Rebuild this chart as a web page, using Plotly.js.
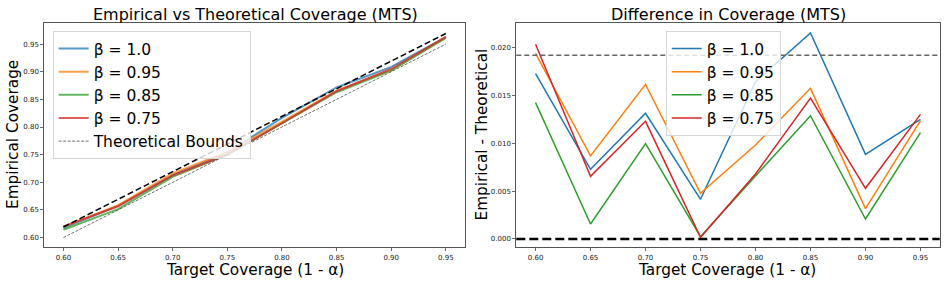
<!DOCTYPE html>
<html><head><meta charset="utf-8">
<script src="https://cdn.plot.ly/plotly-3.0.1.min.js"></script>
<style>html,body{margin:0;padding:0;background:#fff}#c{width:947px;height:284px}</style>
</head><body><div id="c"></div>
<script>
const targets = [0.60, 0.65, 0.70, 0.75, 0.80, 0.85, 0.90, 0.95];
const betaLabels = ['β = 1.0', 'β = 0.95', 'β = 0.85', 'β = 0.75'];
const diffB100 = [0.01728, 0.00728, 0.01314, 0.00415, 0.01645, 0.02153, 0.00885, 0.01251];
const diffB095 = [0.01940, 0.00868, 0.01617, 0.00477, 0.00983, 0.01575, 0.00317, 0.01237];
const diffB085 = [0.01425, 0.00157, 0.00997, 0.00024, 0.00659, 0.01289, 0.00209, 0.01111];
const diffB075 = [0.02035, 0.00655, 0.01230, 0.00017, 0.00680, 0.01474, 0.00530, 0.01303];
const upperGap = 0.0192;
const refLevels = [0.0192, 0.0];
const leftTicks = [0.60, 0.65, 0.70, 0.75, 0.80, 0.85, 0.90, 0.95];
const rightYTicks = [0.000, 0.005, 0.010, 0.015, 0.020];

const diffs = [diffB100, diffB095, diffB085, diffB075];
const colors = ['#1f77b4', '#ff7f0e', '#2ca02c', '#d62728'];
const FONT = 'DejaVu Sans, sans-serif';
const W = 947, H = 284;
const traces = [];

diffs.forEach((d, i) => {
  traces.push({
    x: targets, y: targets.map((t, k) => t + d[k]), type: 'scatter', mode: 'lines',
    name: betaLabels[i], line: {color: colors[i], width: 2}, opacity: 0.75,
    xaxis: 'x', yaxis: 'y', legend: 'legend'
  });
});
traces.push({
  x: targets, y: targets.map(t => t + upperGap), type: 'scatter', mode: 'lines',
  name: 'upper', showlegend: false, line: {color: '#000', width: 1.5, dash: '6px,3px'},
  xaxis: 'x', yaxis: 'y'
});
traces.push({
  x: targets, y: targets.slice(), type: 'scatter', mode: 'lines',
  name: 'Theoretical Bounds', line: {color: '#333', width: 0.7, dash: '3px,1.5px'},
  xaxis: 'x', yaxis: 'y', legend: 'legend'
});
diffs.forEach((d, i) => {
  traces.push({
    x: targets, y: d, type: 'scatter', mode: 'lines',
    name: betaLabels[i], line: {color: colors[i], width: 1.5},
    xaxis: 'x2', yaxis: 'y2', legend: 'legend2'
  });
});

const axBase = {
  showgrid: false, zeroline: false, showline: true, mirror: true,
  linecolor: '#555', linewidth: 1, ticks: 'outside', ticklen: 3, tickwidth: 0.8,
  tickcolor: '#444', tickfont: {family: FONT, size: 7, color: '#222'}
};
const titleFont = {family: FONT, size: 15.3, color: '#000'};
function ann(text, px, py, angle) {
  return {text: text, xref: 'paper', yref: 'paper', x: px / W, y: 1 - py / H,
    xanchor: 'center', yanchor: 'middle', showarrow: false, textangle: angle || 0,
    font: titleFont};
}

const legendBase = {xanchor: 'left', yanchor: 'top',
  bgcolor: 'rgba(255,255,255,0.8)', bordercolor: '#d6d6d6', borderwidth: 1,
  font: {family: FONT, size: 15.5, color: '#000'}, tracegroupgap: 0};

const layout = {
  width: W, height: H, margin: {l: 0, r: 0, t: 0, b: 0},
  paper_bgcolor: '#fff', plot_bgcolor: '#fff',
  xaxis: Object.assign({}, axBase, {domain: [0.0468, 0.491], range: [0.5825, 0.9675],
    tickvals: leftTicks, tickformat: '.2f'}),
  yaxis: Object.assign({}, axBase, {domain: [0.1292, 0.918], range: [0.5824, 0.9876],
    tickvals: leftTicks, tickformat: '.2f'}),
  xaxis2: Object.assign({}, axBase, {domain: [0.5452, 0.9923], range: [0.5825, 0.9675],
    tickvals: leftTicks, tickformat: '.2f', anchor: 'y2'}),
  yaxis2: Object.assign({}, axBase, {domain: [0.1292, 0.918], range: [-0.00087, 0.02255],
    tickvals: rightYTicks, tickformat: '.3f', anchor: 'x2'}),
  shapes: [
    {type: 'line', xref: 'x2 domain', yref: 'y2', x0: 0, x1: 1, y0: refLevels[0], y1: refLevels[0],
     line: {color: '#666', width: 1.5, dash: '5px,3px'}},
    {type: 'line', xref: 'x2 domain', yref: 'y2', x0: 0, x1: 1, y0: refLevels[1], y1: refLevels[1],
     line: {color: '#000', width: 2.5, dash: '9px,4px'}}
  ],
  annotations: [
    Object.assign(ann('Empirical vs Theoretical Coverage (MTS)', 255, 14), {font: {family: FONT, size: 16, color: '#000'}}),
    Object.assign(ann('Difference in Coverage (MTS)', 728, 14), {font: {family: FONT, size: 16, color: '#000'}}),
    ann('Target Coverage (1 - α)', 255, 270),
    ann('Target Coverage (1 - α)', 727, 270),
    ann('Empirical Coverage', 13, 135, -90),
    ann('Empirical - Theoretical', 481.5, 135, -90)
  ],
  legend: Object.assign({}, legendBase, {x: 0.0556, y: 0.891}),
  legend2: Object.assign({}, legendBase, {x: 0.703, y: 0.891}),
  showlegend: true
};
Plotly.newPlot('c', traces, layout, {displayModeBar: false, staticPlot: true});
</script></body></html>
